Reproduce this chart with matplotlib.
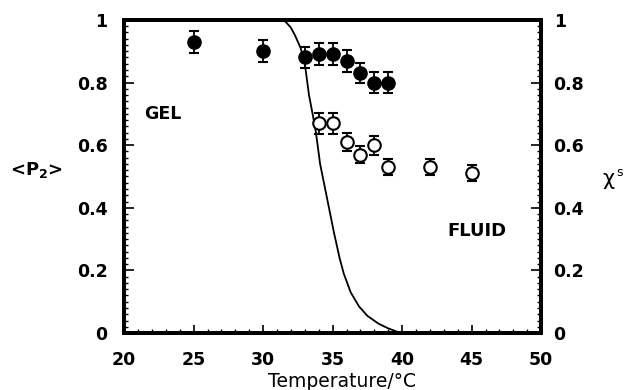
import matplotlib
matplotlib.use("Agg")
import matplotlib.pyplot as plt
from matplotlib.ticker import MultipleLocator, FuncFormatter

# Order parameter <P2>, gel-like component (filled) and fluid-like component (open)
temp_gel = [25, 30, 33, 34, 35, 36, 37, 38, 39]
p2_gel = [0.93, 0.90, 0.88, 0.89, 0.89, 0.87, 0.83, 0.80, 0.80]
err_gel = [0.035, 0.035, 0.035, 0.035, 0.035, 0.035, 0.033, 0.033, 0.033]

temp_fluid = [34, 35, 36, 37, 38, 39, 42, 45]
p2_fluid = [0.67, 0.67, 0.61, 0.57, 0.60, 0.53, 0.53, 0.51]
err_fluid = [0.033, 0.033, 0.03, 0.028, 0.03, 0.026, 0.026, 0.026]

# Solid-phase fraction chi^s across the transition
temp_curve = [20, 31.0, 31.6, 32.0, 32.3, 32.7, 33.0, 33.3, 33.6, 33.8, 34.1,
              34.6, 35.1, 35.5, 35.8, 36.3, 36.9, 37.5, 38.3, 39.0, 39.6, 40.0, 50]
chi_curve = [1, 1, 0.995, 0.975, 0.95, 0.91, 0.86, 0.76, 0.69, 0.64, 0.54,
             0.43, 0.32, 0.24, 0.19, 0.13, 0.085, 0.055, 0.03, 0.015, 0.005, 0, 0]

x_ticks = [20, 25, 30, 35, 40, 45, 50]
y_ticks = [0, 0.2, 0.4, 0.6, 0.8, 1]

fig = plt.figure(figsize=(6.27, 3.90), dpi=100)
ax = fig.add_axes([0.198, 0.146, 0.665, 0.803])
ax2 = ax.twinx()

tick_size = 12.5
tick_font = dict(family="DejaVu Sans", weight="bold", size=tick_size)

ax.plot(temp_curve, chi_curve, color="black", lw=1.3, clip_on=True, zorder=2)

ax.errorbar(temp_gel, p2_gel, yerr=err_gel, fmt="o", color="black",
            markersize=9.5, markerfacecolor="black", markeredgecolor="black",
            ecolor="black", elinewidth=1.3, capsize=3.5, capthick=1.5, zorder=3)
ax.errorbar(temp_fluid, p2_fluid, yerr=err_fluid, fmt="o", color="black",
            markersize=9, markerfacecolor="white", markeredgecolor="black",
            markeredgewidth=1.5, ecolor="black", elinewidth=1.3, capsize=3.5,
            capthick=1.5, zorder=3)

ax.text(22.8, 0.70, "GEL", ha="center", va="center", family="DejaVu Sans",
        weight="bold", size=12.5)
ax.text(45.4, 0.326, "FLUID", ha="center", va="center", family="DejaVu Sans",
        weight="bold", size=13)

fmt = FuncFormatter(lambda v, p: "0" if abs(v) < 1e-9 else ("1" if abs(v - 1) < 1e-9 else f"{v:.1f}"))

for a in (ax, ax2):
    a.set_xlim(20, 50)
    a.set_ylim(0, 1)
    a.set_yticks(y_ticks)
    a.yaxis.set_major_formatter(fmt)
    a.yaxis.set_minor_locator(MultipleLocator(0.02))
    for s in a.spines.values():
        s.set_linewidth(2.8)

ax.set_xticks(x_ticks)
ax.set_xticklabels([str(v) for v in x_ticks], fontdict=tick_font)
ax.xaxis.set_minor_locator(MultipleLocator(1))
ax.tick_params(axis="x", which="major", direction="in", length=6, width=1.2,
               top=False, pad=13)
ax.tick_params(axis="x", which="minor", direction="in", length=3, width=1.0,
               top=False)
ax.tick_params(axis="y", which="major", direction="in", length=7, width=1.2,
               left=True, right=False, pad=12)
ax.tick_params(axis="y", which="minor", direction="in", length=3, width=1.0,
               left=True, right=False)
ax2.tick_params(axis="y", which="major", direction="in", length=7, width=1.2,
                right=True, left=False, pad=9)
ax2.tick_params(axis="y", which="minor", direction="in", length=3, width=1.0,
                right=True, left=False)
for lab in ax.get_yticklabels() + ax2.get_yticklabels():
    lab.set_fontfamily("DejaVu Sans")
    lab.set_fontsize(tick_size)
    lab.set_fontweight("bold")

fig.text(0.545, 0.022, "Temperature/°C", ha="center", va="center",
         family="DejaVu Sans", size=13.5)
fig.text(0.058, 0.565, r"<P$_\mathbf{2}$>", ha="center", va="center",
         family="DejaVu Sans", weight="bold", size=13)
fig.text(0.970, 0.54, "χ", ha="center", va="center",
         family="DejaVu Sans", size=15)
fig.text(0.988, 0.557, "s", ha="center", va="center",
         family="DejaVu Sans", size=9)

fig.savefig("out.png", dpi=100)
